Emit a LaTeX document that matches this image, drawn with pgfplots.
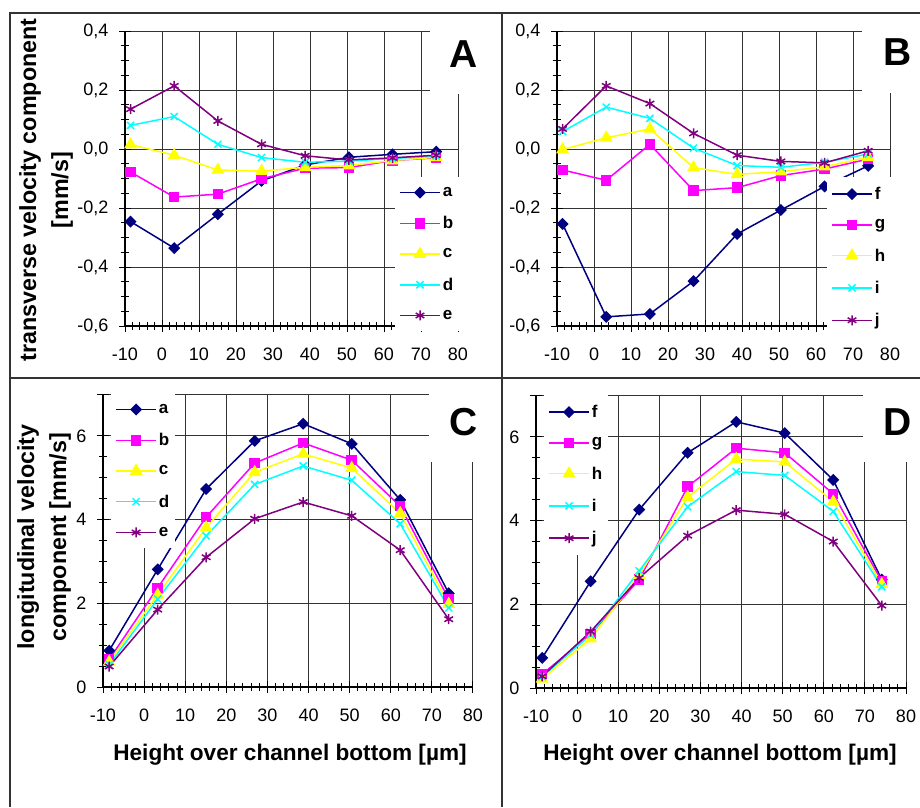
\documentclass[border=0pt]{standalone}
\usepackage{fontspec}
\setmainfont{Liberation Sans}
\usepackage{pgfplots}
\pgfplotsset{compat=1.18}

\definecolor{cnavy}{RGB}{0,0,128}
\definecolor{cmag}{RGB}{255,0,255}
\definecolor{cyel}{RGB}{255,255,0}
\definecolor{ccyan}{RGB}{0,255,255}
\definecolor{cpurp}{RGB}{128,0,128}

\pgfplotsset{
  legend image code/.code={\draw[line width=1.5pt,mark repeat=2,mark phase=2,#1] plot coordinates {(0pt,0pt) (20pt,0pt) (40pt,0pt)};},
  sa/.style={color=cnavy, mark=square*, mark size=3.5pt, mark options={rotate=45}},
  sb/.style={color=cmag, mark=square*, mark size=4.5pt},
  sc/.style={color=cyel, mark=triangle*, mark size=6pt},
  sd/.style={color=ccyan, mark=x, mark size=5pt},
  se/.style={color=cpurp, mark=asterisk, mark size=5pt},
  panel/.style={
    scale only axis,
    axis x line*=bottom, axis y line*=left,
    xmin=-10, xmax=80, xtick={-10,0,...,80}, minor x tick num=4,
    grid=major, major grid style={black!80, line width=1pt},
    tick align=center, major tick length=12pt, minor tick length=8pt,
    every tick/.style={black, line width=1pt},
    axis line style={black, line width=1.4pt},
    tick label style={font=\fontsize{18}{20}\selectfont},
    xticklabel style={yshift=-12pt},
    yticklabel style={xshift=-7pt},
    /pgf/number format/assume math mode=true,
    every axis plot/.append style={line width=1.5pt},
    legend cell align=left,
    legend style={draw=none, fill=white, anchor=north west,
      font=\bfseries\fontsize{17}{20}\selectfont, row sep=14.5pt,
      inner xsep=4pt, inner ysep=8pt},
    clip=false,
  },
  trans/.style={panel, width=333pt, height=295pt,
    ymin=-0.6, ymax=0.4, ytick={-0.6,-0.4,...,0.4}, minor y tick num=3,
    yticklabel style={/pgf/number format/.cd, fixed, fixed zerofill, precision=1, use comma},
    legend style={at={(0.811,0.505)}}},
  longi/.style={panel, width=370pt, height=293pt,
    ymin=0, ymax=7, ytick={0,2,4,6}, minor y tick num=3,
    extra y ticks={7}, extra y tick labels={},
    legend style={at={(0.022,1.0)}}},
}

\begin{document}
\begin{tikzpicture}
\path[use as bounding box] (0pt,0pt) rectangle (920pt,-807pt);

% A
\begin{axis}[trans, at={(125pt,-326pt)}, anchor=south west]
\addplot[sa] coordinates {(-8.5,-0.246) (3.3,-0.336) (15.1,-0.221) (26.9,-0.108) (38.7,-0.054) (50.5,-0.028) (62.3,-0.018) (74.1,-0.009)};
\addplot[sb] coordinates {(-8.5,-0.078) (3.3,-0.163) (15.1,-0.153) (26.9,-0.101) (38.7,-0.065) (50.5,-0.063) (62.3,-0.039) (74.1,-0.030)};
\addplot[sc] coordinates {(-8.5,0.015) (3.3,-0.021) (15.1,-0.071) (26.9,-0.075) (38.7,-0.062) (50.5,-0.056) (62.3,-0.039) (74.1,-0.028)};
\addplot[sd] coordinates {(-8.5,0.080) (3.3,0.110) (15.1,0.016) (26.9,-0.029) (38.7,-0.045) (50.5,-0.041) (62.3,-0.032) (74.1,-0.024)};
\addplot[se] coordinates {(-8.5,0.135) (3.3,0.214) (15.1,0.095) (26.9,0.016) (38.7,-0.023) (50.5,-0.037) (62.3,-0.030) (74.1,-0.021)};
\legend{a,b,c,d,e}
\end{axis}

% B
\begin{axis}[trans, at={(557pt,-326pt)}, anchor=south west]
\addplot[sa] coordinates {(-8.5,-0.254) (3.3,-0.569) (15.1,-0.559) (26.9,-0.448) (38.7,-0.288) (50.5,-0.207) (62.3,-0.127) (74.1,-0.057)};
\addplot[sb] coordinates {(-8.5,-0.071) (3.3,-0.106) (15.1,0.016) (26.9,-0.141) (38.7,-0.131) (50.5,-0.090) (62.3,-0.068) (74.1,-0.034)};
\addplot[sc] coordinates {(-8.5,-0.002) (3.3,0.038) (15.1,0.068) (26.9,-0.063) (38.7,-0.086) (50.5,-0.077) (62.3,-0.060) (74.1,-0.028)};
\addplot[sd] coordinates {(-8.5,0.059) (3.3,0.142) (15.1,0.104) (26.9,0.003) (38.7,-0.056) (50.5,-0.062) (62.3,-0.045) (74.1,-0.017)};
\addplot[se] coordinates {(-8.5,0.068) (3.3,0.214) (15.1,0.154) (26.9,0.053) (38.7,-0.021) (50.5,-0.042) (62.3,-0.047) (74.1,-0.006)};
\legend{f,g,h,i,j}
\end{axis}

% C
\begin{axis}[longi, at={(103pt,-687pt)}, anchor=south west]
\addplot[sa] coordinates {(-8.5,0.87) (3.3,2.81) (15.1,4.73) (26.9,5.88) (38.7,6.29) (50.5,5.81) (62.3,4.47) (74.1,2.24)};
\addplot[sb] coordinates {(-8.5,0.66) (3.3,2.37) (15.1,4.06) (26.9,5.35) (38.7,5.83) (50.5,5.42) (62.3,4.32) (74.1,2.10)};
\addplot[sc] coordinates {(-8.5,0.60) (3.3,2.20) (15.1,3.81) (26.9,5.13) (38.7,5.57) (50.5,5.23) (62.3,4.15) (74.1,1.98)};
\addplot[sd] coordinates {(-8.5,0.53) (3.3,2.10) (15.1,3.61) (26.9,4.84) (38.7,5.28) (50.5,4.94) (62.3,3.90) (74.1,1.89)};
\addplot[se] coordinates {(-8.5,0.49) (3.3,1.85) (15.1,3.10) (26.9,4.02) (38.7,4.42) (50.5,4.09) (62.3,3.27) (74.1,1.62)};
\legend{a,b,c,d,e}
\end{axis}

% D
\begin{axis}[longi, at={(536pt,-688pt)}, anchor=south west]
\addplot[sa] coordinates {(-8.5,0.72) (3.3,2.55) (15.1,4.26) (26.9,5.62) (38.7,6.36) (50.5,6.09) (62.3,4.97) (74.1,2.59)};
\addplot[sb] coordinates {(-8.5,0.33) (3.3,1.29) (15.1,2.59) (26.9,4.81) (38.7,5.73) (50.5,5.62) (62.3,4.64) (74.1,2.55)};
\addplot[sc] coordinates {(-8.5,0.22) (3.3,1.18) (15.1,2.70) (26.9,4.56) (38.7,5.47) (50.5,5.40) (62.3,4.45) (74.1,2.48)};
\addplot[sd] coordinates {(-8.5,0.27) (3.3,1.27) (15.1,2.80) (26.9,4.33) (38.7,5.17) (50.5,5.08) (62.3,4.22) (74.1,2.42)};
\addplot[se] coordinates {(-8.5,0.28) (3.3,1.35) (15.1,2.63) (26.9,3.64) (38.7,4.25) (50.5,4.15) (62.3,3.50) (74.1,1.97)};
\legend{f,g,h,i,j}
\end{axis}

% white boxes behind panel letters
\fill[white] (430pt,-20pt) rectangle (500pt,-94pt);
\fill[white] (862pt,-20pt) rectangle (919pt,-93pt);
\fill[white] (429pt,-382pt) rectangle (500pt,-462pt);
\fill[white] (863pt,-382pt) rectangle (919pt,-462pt);
\begin{scope}[every node/.style={font=\bfseries\fontsize{39}{40}\selectfont}]
\node at (464pt,-54pt) {A};
\node at (898pt,-52pt) {B};
\node at (464pt,-422pt) {C};
\node at (898pt,-422pt) {D};
\end{scope}

% axis titles
\node[rotate=90, align=center, font=\bfseries\fontsize{23.3}{32}\selectfont] at (46pt,-190pt) {transverse velocity component\\{}[mm/s]};
\node[rotate=90, align=center, font=\bfseries\fontsize{23.3}{32}\selectfont] at (44pt,-537pt) {longitudinal velocity\\component [mm/s]};
\node[anchor=base, font=\bfseries\fontsize{22.6}{26}\selectfont] at (290pt,-760pt) {Height over channel bottom [µm]};
\node[anchor=base, font=\bfseries\fontsize{22.6}{26}\selectfont] at (720pt,-760pt) {Height over channel bottom [µm]};

% panel frame
\draw[line width=1.8pt, black!80] (10pt,-807pt) -- (10pt,-13pt) -- (920pt,-13pt);
\draw[line width=1.8pt, black!80] (502pt,-13pt) -- (502pt,-807pt);
\draw[line width=1.8pt, black!80] (10pt,-378pt) -- (920pt,-378pt);
\end{tikzpicture}
\end{document}
